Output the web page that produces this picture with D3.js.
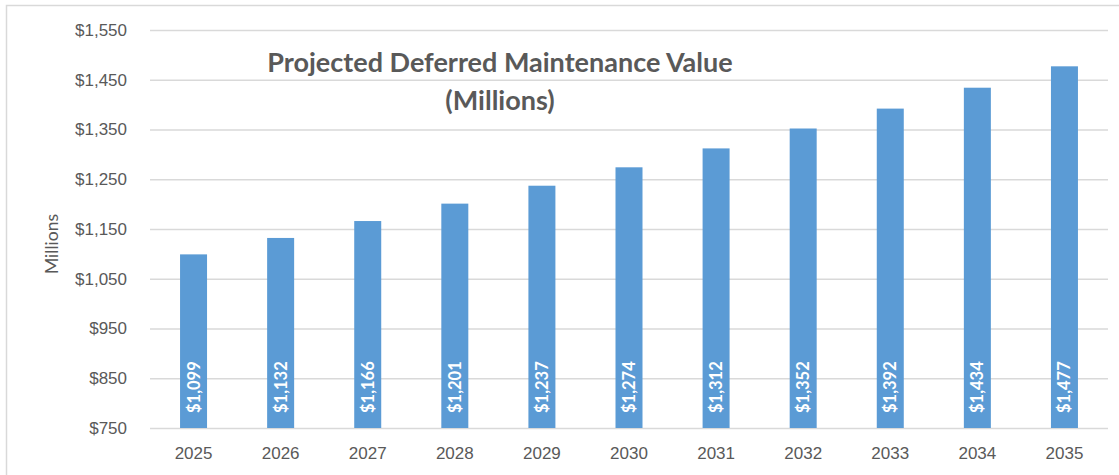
<!DOCTYPE html>
<html>
<head>
<meta charset="utf-8">
<script src="https://cdn.jsdelivr.net/npm/d3@7"></script>
<style>
  html, body { margin: 0; padding: 0; background: #fff; }
  svg { display: block; font-family: Lato, "Open Sans", sans-serif; }
</style>
</head>
<body>
<svg id="chart" width="1119" height="475"></svg>
<script>
// Projected deferred maintenance, in millions of dollars
const years = ["2025", "2026", "2027", "2028", "2029", "2030", "2031", "2032", "2033", "2034", "2035"];
const values = [1099, 1132, 1166, 1201, 1237, 1274, 1312, 1352, 1392, 1434, 1477];
const yTicks = [750, 850, 950, 1050, 1150, 1250, 1350, 1450, 1550];
const titleLines = ["Projected Deferred Maintenance Value", "(Millions)"];
const yAxisTitle = "Millions";

const svg = d3.select("#chart");
const W = 1119, H = 475;
const plot = { left: 150, right: 1108, top: 30, bottom: 428 };
const textColor = "#595959";
const gridColor = "#d9d9d9";
const barColor = "#5b9bd5";

// chart frame
svg.append("rect")
  .attr("x", 6.5).attr("y", 5.5)
  .attr("width", W + 10).attr("height", H + 10)
  .attr("fill", "#fff").attr("stroke", gridColor).attr("stroke-width", 1.5);

const x = d3.scaleBand().domain(years).range([plot.left, plot.right]).paddingInner(0.69).paddingOuter(0.345);
const y = d3.scaleLinear().domain([750, 1550]).range([plot.bottom, plot.top]);

// horizontal gridlines and dollar tick labels
const yAxis = d3.axisLeft(y)
  .tickValues(yTicks)
  .tickSize(-(plot.right - plot.left))
  .tickPadding(23)
  .tickFormat(d => "$" + d3.format(",")(d));

const gy = svg.append("g").attr("transform", `translate(${plot.left},0)`).call(yAxis);
gy.select(".domain").remove();
gy.selectAll(".tick line").attr("stroke", gridColor).attr("stroke-width", 1.5);
gy.selectAll(".tick text").attr("fill", textColor).attr("font-size", 17);

// year labels along the bottom
const xAxis = d3.axisBottom(x).tickSize(0).tickPadding(19);
const gx = svg.append("g").attr("transform", `translate(0,${plot.bottom})`).call(xAxis);
gx.select(".domain").remove();
gx.selectAll(".tick text").attr("fill", textColor).attr("font-size", 17);

// bars
svg.append("g").selectAll("rect")
  .data(values)
  .join("rect")
  .attr("x", (d, i) => x(years[i]))
  .attr("y", d => y(d))
  .attr("width", x.bandwidth())
  .attr("height", d => y(750) - y(d))
  .attr("fill", barColor);

// value labels inside the bars, rotated
svg.append("g").selectAll("text")
  .data(values)
  .join("text")
  .attr("transform", (d, i) => `translate(${x(years[i]) + x.bandwidth() / 2 + 6},${plot.bottom - 15}) rotate(-90)`)
  .attr("text-anchor", "start")
  .attr("fill", "#fff")
  .attr("font-weight", "bold")
  .attr("font-size", 16.5)
  .text(d => "$" + d3.format(",")(d));

// chart title
svg.append("g").selectAll("text")
  .data(titleLines)
  .join("text")
  .attr("x", 500)
  .attr("y", (d, i) => 72 + i * 38)
  .attr("text-anchor", "middle")
  .attr("fill", textColor)
  .attr("font-weight", "bold")
  .attr("font-size", 27)
  .text(d => d);

// y-axis title
svg.append("text")
  .attr("transform", `translate(58,244) rotate(-90)`)
  .attr("text-anchor", "middle")
  .attr("fill", textColor)
  .attr("font-size", 17.5)
  .text(yAxisTitle);
</script>
</body>
</html>
